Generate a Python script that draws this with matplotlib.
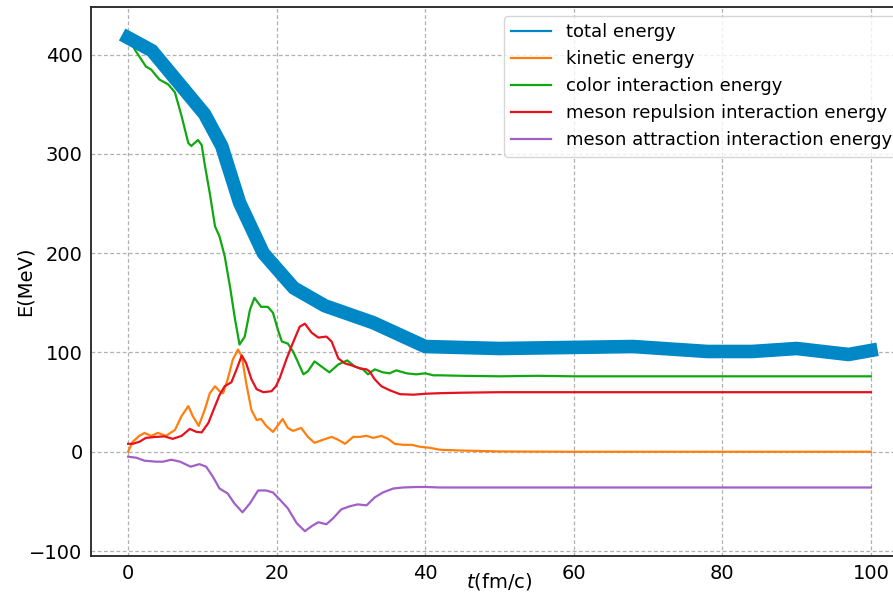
import matplotlib.pyplot as plt
import numpy as np

# total energy (coarse samples)
t_tot = [0, 3.2, 10.3, 12.6, 15, 18.2, 22.3, 26.5, 33, 40, 50, 68, 78, 84, 90, 97, 100]
e_tot = [417, 404, 340, 308, 251, 200, 165, 147, 130, 106, 104, 106, 101, 101, 104, 98, 102]

# kinetic energy
t_kin = [0, 0.6, 1.5, 2.2, 3.1, 4.0, 5.1, 6.3, 7.2, 8.1, 8.7, 9.5, 10.3, 11.0, 11.7, 12.3,
         12.8, 13.4, 14.1, 14.8, 15.3, 15.9, 16.6, 17.3, 17.9, 18.6, 19.5, 20.2, 20.8, 21.5,
         22.2, 23.3, 24.2, 25.1, 26.2, 27.4, 28.3, 29.2, 30.3, 31.2, 32.1, 33.0, 34.1, 35.0,
         35.9, 37.0, 38.2, 39.3, 40.6, 42, 45, 50, 60, 100]
e_kin = [0, 10, 16, 19, 16, 19, 16, 22, 36, 46, 36, 26, 42, 59, 66, 61,
         59, 73, 93, 103, 96, 69, 42, 32, 33, 26, 20, 27, 33, 24,
         21, 24, 15, 9, 12, 15, 12, 8, 15, 15, 16, 14, 16, 13,
         8, 7, 7, 5, 4, 2, 1.2, 0.3, 0, 0]

# color interaction energy
t_col = [0, 0.9, 2.4, 3.1, 4.2, 5.4, 6.3, 7.2, 8.1, 8.5, 9.4, 9.9, 10.3, 11.0, 11.7, 12.3,
         13.0, 13.7, 14.4, 15.0, 15.7, 16.4, 17.0, 17.9, 18.8, 19.5, 20.2, 20.7, 21.5, 22.2,
         22.7, 23.6, 24.2, 25.1, 26.0, 27.1, 28.3, 29.5, 30.5, 31.6, 32.3, 33.2, 34.3, 35.2,
         36.1, 37.5, 38.8, 40.0, 41.1, 42, 45, 50, 55, 60, 70, 80, 90, 100]
e_col = [420, 405, 388, 385, 375, 370, 362, 338, 311, 308, 314, 309, 290, 260, 227, 217,
         197, 167, 133, 108, 116, 143, 155, 146, 146, 140, 122, 111, 109, 101,
         93, 78, 81, 91, 86, 80, 88, 92, 86, 83, 78, 83, 80, 79,
         82, 79, 78, 79, 77, 77, 76.5, 76, 76.5, 76, 76, 76, 76, 76]

# meson repulsion interaction energy
t_rep = [0, 0.6, 1.5, 2.4, 3.8, 4.9, 6.0, 7.2, 8.3, 9.2, 9.9, 10.8, 11.7, 12.3, 13.0, 13.9,
         14.6, 15.3, 15.9, 16.6, 17.3, 18.2, 19.3, 19.9, 20.4, 21.3, 22.2, 23.1, 23.8, 24.7,
         25.6, 26.7, 27.4, 28.3, 29.2, 30.1, 31.2, 32.1, 32.5, 33.2, 34.1, 35.2, 36.6, 38.4,
         40.2, 42, 45, 50, 100]
e_rep = [8, 8, 10, 14, 15, 15.5, 13, 16, 23, 20, 19.5, 29, 46, 57, 66, 70,
         83, 97, 89, 73, 63, 60, 61, 66, 74, 93, 110, 126, 129, 120,
         115, 116, 111, 94, 89, 87, 84, 83, 81, 73, 66, 62, 58, 57.5,
         58.5, 59, 59.5, 60, 60]

# meson attraction interaction energy
t_att = [0, 1.1, 2.2, 3.8, 4.7, 5.8, 7.0, 8.4, 9.6, 10.5, 11.4, 12.3, 13.4, 14.3, 15.4, 16.4,
         17.5, 18.6, 19.5, 20.4, 21.5, 22.7, 23.8, 24.7, 25.6, 26.7, 27.6, 28.7, 29.8, 30.9,
         32.1, 33.2, 34.3, 35.7, 37.0, 38.8, 40.2, 42, 50, 100]
e_att = [-5, -6, -9, -10, -10, -8, -10, -15, -12.5, -15, -25, -37, -42, -52, -61, -52,
         -39, -39, -41, -48, -57, -72, -80, -75, -71, -73, -67, -58, -55, -53,
         -54, -46, -41, -37, -36, -35.5, -35.5, -36, -36, -36]

fig = plt.figure(figsize=(8.93, 5.98), dpi=100)
ax = fig.add_axes([91/893, 42/598, 817/893, 549/598])

ax.plot(t_tot, e_tot, color='#0088c6', lw=9.8, label='total energy', zorder=4)
ax.plot(t_kin, e_kin, color='#ff7f0e', lw=1.6, label='kinetic energy')
ax.plot(t_col, e_col, color='#10a810', lw=1.6, label='color interaction energy')
ax.plot(t_rep, e_rep, color='#e8101c', lw=1.6, label='meson repulsion interaction energy')
ax.plot(t_att, e_att, color='#a060c8', lw=1.6, label='meson attraction interaction energy')

ax.set_xlim(-5, 105)
ax.set_ylim(-105, 448)
ax.set_xticks([0, 20, 40, 60, 80, 100])
ax.set_yticks([-100, 0, 100, 200, 300, 400])
ax.tick_params(direction='in', length=0, labelsize=14, pad=6)
ax.grid(True, color='#b0b0b0', lw=0.9, dashes=(3, 2))
for s in ax.spines.values():
    s.set_linewidth(1.3)
    s.set_color('#222222')

ax.set_xlabel(r'$t$(fm/c)', fontsize=14, labelpad=-9)
ax.set_ylabel('E(MeV)', fontsize=14, labelpad=-4)

leg = ax.legend(loc='upper right', fontsize=13, handlelength=2.2)
for line in leg.get_lines():
    line.set_linewidth(1.6)

fig.savefig('out.png', dpi=100)
